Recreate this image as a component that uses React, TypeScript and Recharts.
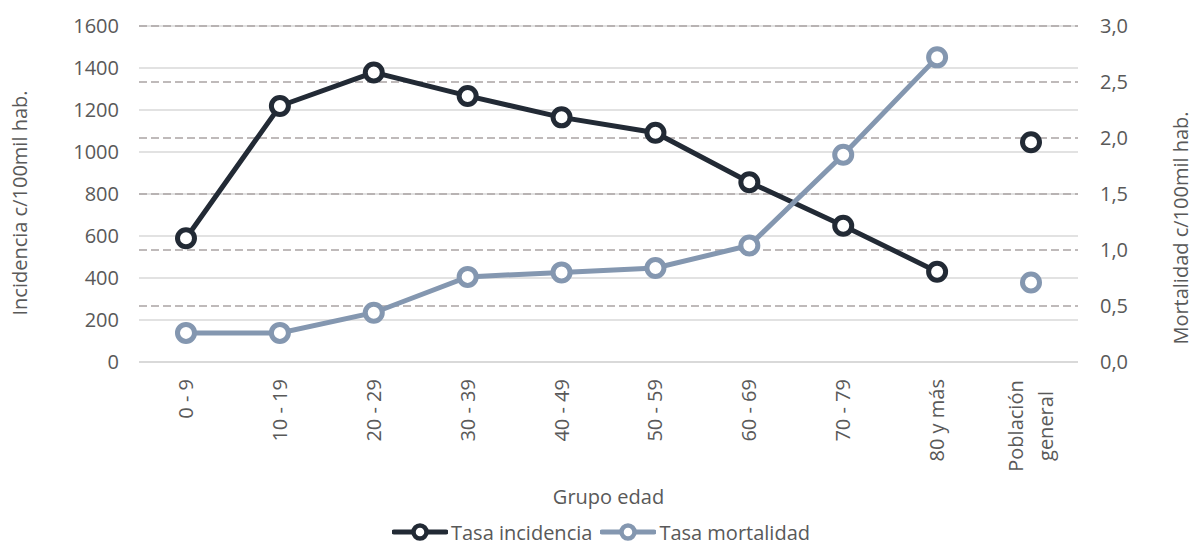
import {
  CartesianGrid,
  Legend,
  Line,
  LineChart,
  XAxis,
  YAxis,
} from "recharts";

// Age groups; the last one is the general-population reference point
const categories = [
  "0 - 9",
  "10 - 19",
  "20 - 29",
  "30 - 39",
  "40 - 49",
  "50 - 59",
  "60 - 69",
  "70 - 79",
  "80 y más",
  "Población general",
];
// Incidencia c/100mil hab.
const incidencia = [589, 1219, 1379, 1267, 1165, 1092, 856, 649, 430, 1046];
// Mortalidad c/100mil hab.
const mortalidad = [0.26, 0.26, 0.44, 0.76, 0.8, 0.84, 1.04, 1.85, 2.72, 0.71];

const leftTicks = [0, 200, 400, 600, 800, 1000, 1200, 1400, 1600];
const rightTicks = [0, 0.5, 1, 1.5, 2, 2.5, 3];

const DARK = "#222a35";
const LIGHT = "#8497b0";
const TEXT = "#595959";
const FONT = "'Open Sans', Lato, sans-serif";
const FS = 20;

const generalIdx = categories.length - 1;
// the age-group lines stop at "80 y más"; the general population is a lone marker
const rows = categories.map((cat, i) => ({
  cat,
  inc: i < generalIdx ? incidencia[i] : null,
  incGen: i === generalIdx ? incidencia[i] : null,
  mort: i < generalIdx ? mortalidad[i] : null,
  mortGen: i === generalIdx ? mortalidad[i] : null,
}));

const dot = (color: string) => ({
  r: 8.5,
  fill: "#fff",
  stroke: color,
  strokeWidth: 5,
});

function AgeTick({ x, y, payload }: any) {
  const label: string = payload.value;
  const top = y + 15;
  if (label.length > 10) {
    const [a, ...rest] = label.split(" ");
    const b = rest.join(" ");
    const mid = top + 47;
    return (
      <g fill={TEXT} fontSize={FS} fontFamily={FONT}>
        <text
          x={x - 15}
          y={mid}
          dy="0.35em"
          textAnchor="middle"
          transform={`rotate(-90, ${x - 15}, ${mid})`}
        >
          {a}
        </text>
        <text
          x={x + 15}
          y={mid}
          dy="0.35em"
          textAnchor="middle"
          transform={`rotate(-90, ${x + 15}, ${mid})`}
        >
          {b}
        </text>
      </g>
    );
  }
  return (
    <text
      x={x}
      y={top}
      dy="0.35em"
      textAnchor="end"
      fill={TEXT}
      fontSize={FS}
      fontFamily={FONT}
      transform={`rotate(-90, ${x}, ${top})`}
    >
      {label}
    </text>
  );
}

function LegendIcon({ color }: { color: string }) {
  return (
    <svg width={56} height={24} style={{ display: "block" }}>
      <line x1={2} y1={12} x2={54} y2={12} stroke={color} strokeWidth={5} strokeLinecap="round" />
      <circle cx={28} cy={12} r={6.5} fill="#fff" stroke={color} strokeWidth={4.5} />
    </svg>
  );
}

function SeriesLegend() {
  const items = [
    { name: "Tasa incidencia", color: DARK },
    { name: "Tasa mortalidad", color: LIGHT },
  ];
  return (
    <div
      style={{
        display: "flex",
        justifyContent: "center",
        alignItems: "center",
        height: 24,
        paddingLeft: 16,
        fontFamily: FONT,
        fontSize: FS,
        color: TEXT,
      }}
    >
      {items.map((it) => (
        <div key={it.name} style={{ display: "flex", alignItems: "center", marginRight: 8 }}>
          <LegendIcon color={it.color} />
          <span style={{ marginLeft: 3 }}>{it.name}</span>
        </div>
      ))}
    </div>
  );
}

const axisTitle = (text: string, dx: number, dy: number) => ({ viewBox }: any) => {
  const cx = viewBox.x + dx;
  const cy = viewBox.y + viewBox.height / 2 + dy;
  return (
    <text
      x={cx}
      y={cy}
      dy="0.35em"
      textAnchor="middle"
      fill={TEXT}
      fontSize={FS}
      fontFamily={FONT}
      transform={`rotate(-90, ${cx}, ${cy})`}
    >
      {text}
    </text>
  );
};

export default function App() {
  return (
    <div style={{ position: "absolute", left: 0, top: 0, background: "#fff" }}>
      <LineChart
        width={1194}
        height={544}
        data={rows}
        margin={{ top: 26, right: 0, bottom: 0, left: 0 }}
      >
        <CartesianGrid
          yAxisId="left"
          vertical={false}
          stroke="#d9d9d9"
          strokeWidth={1.5}
        />
        <CartesianGrid
          yAxisId="right"
          vertical={false}
          stroke="#aaa4a4"
          strokeWidth={1.5}
          strokeDasharray="8 4"
        />
        <XAxis
          dataKey="cat"
          interval={0}
          height={158}
          padding={{ left: 47, right: 47 }}
          tick={<AgeTick />}
          tickLine={false}
          tickSize={0}
          axisLine={{ stroke: "#d9d9d9", strokeWidth: 2 }}
          label={({ viewBox }: any) => (
            <text
              x={viewBox.x + viewBox.width / 2}
              y={viewBox.y + 142}
              textAnchor="middle"
              fill={TEXT}
              fontSize={FS}
              fontFamily={FONT}
            >
              Grupo edad
            </text>
          )}
        />
        <YAxis
          yAxisId="left"
          orientation="left"
          width={139}
          domain={[0, 1600]}
          ticks={leftTicks}
          axisLine={false}
          tickLine={false}
          tickSize={0}
          tickMargin={20}
          tick={{ fill: TEXT, fontSize: FS, fontFamily: FONT }}
          label={axisTitle("Incidencia c/100mil hab.", 20, 9)}
        />
        <YAxis
          yAxisId="right"
          orientation="right"
          width={116}
          domain={[0, 3]}
          ticks={rightTicks}
          axisLine={false}
          tickLine={false}
          tickSize={0}
          tickMargin={22}
          tickFormatter={(v: number) => v.toFixed(1).replace(".", ",")}
          tick={{ fill: TEXT, fontSize: FS, fontFamily: FONT }}
          label={axisTitle("Mortalidad c/100mil hab.", 103, 34)}
        />
        <Legend verticalAlign="bottom" content={<SeriesLegend />} />
        <Line
          yAxisId="left"
          dataKey="inc"
          name="Tasa incidencia"
          stroke={DARK}
          strokeWidth={5}
          dot={dot(DARK)}
          activeDot={false}
          isAnimationActive={false}
        />
        <Line
          yAxisId="left"
          dataKey="incGen"
          legendType="none"
          stroke={DARK}
          strokeWidth={5}
          dot={dot(DARK)}
          activeDot={false}
          isAnimationActive={false}
        />
        <Line
          yAxisId="right"
          dataKey="mort"
          name="Tasa mortalidad"
          stroke={LIGHT}
          strokeWidth={5}
          dot={dot(LIGHT)}
          activeDot={false}
          isAnimationActive={false}
        />
        <Line
          yAxisId="right"
          dataKey="mortGen"
          legendType="none"
          stroke={LIGHT}
          strokeWidth={5}
          dot={dot(LIGHT)}
          activeDot={false}
          isAnimationActive={false}
        />
      </LineChart>
    </div>
  );
}
